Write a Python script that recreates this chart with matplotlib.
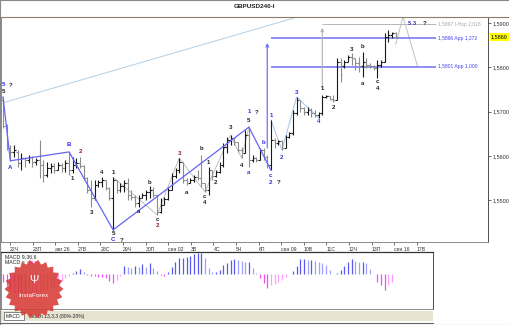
import matplotlib
matplotlib.use("Agg")
import matplotlib.pyplot as plt
import numpy as np
from matplotlib.lines import Line2D
from matplotlib.patches import Polygon, Rectangle

plt.rcParams['font.family'] = ['Liberation Sans', 'DejaVu Sans']

# GBPUSD H4 bars
hi = [
    1.5733, 1.5672, 1.5625, 1.5625, 1.5613, 1.5607, 1.5598, 1.5602, 1.5600, 1.5595,
    1.5636, 1.5591, 1.5586, 1.5584, 1.5584, 1.5586, 1.5584, 1.5591, 1.5609, 1.5598,
    1.5595, 1.5598, 1.5580, 1.5552, 1.5546, 1.5546, 1.5546, 1.5552, 1.5546, 1.5530,
    1.5552, 1.5546, 1.5539, 1.5546, 1.5550, 1.5523, 1.5512, 1.5512, 1.5516, 1.5523,
    1.5532, 1.5530, 1.5512, 1.5505, 1.5507, 1.5530, 1.5561, 1.5573, 1.5595, 1.5586,
    1.5550, 1.5550, 1.5557, 1.5568, 1.5602, 1.5539, 1.5575, 1.5568, 1.5568, 1.5586,
    1.5629, 1.5643, 1.5647, 1.5643, 1.5631, 1.5620, 1.5659, 1.5665, 1.5602, 1.5598,
    1.5618, 1.5618, 1.5602, 1.5681, 1.5640, 1.5636, 1.5636, 1.5647, 1.5654, 1.5704,
    1.5733, 1.5726, 1.5710, 1.5710, 1.5708, 1.5704, 1.5699, 1.5737, 1.5737, 1.5735,
    1.5737, 1.5821, 1.5821, 1.5816, 1.5828, 1.5832, 1.5821, 1.5823, 1.5835, 1.5821,
    1.5810, 1.5805, 1.5816, 1.5816, 1.5877, 1.5884, 1.5880, 1.5880,
]
lo = [
    1.5663, 1.5613, 1.5589, 1.5598, 1.5575, 1.5568, 1.5575, 1.5584, 1.5575, 1.5580,
    1.5550, 1.5541, 1.5552, 1.5561, 1.5561, 1.5568, 1.5564, 1.5564, 1.5557, 1.5561,
    1.5573, 1.5573, 1.5546, 1.5516, 1.5485, 1.5500, 1.5530, 1.5530, 1.5523, 1.5500,
    1.5433, 1.5516, 1.5519, 1.5519, 1.5500, 1.5500, 1.5485, 1.5485, 1.5505, 1.5500,
    1.5505, 1.5507, 1.5467, 1.5471, 1.5489, 1.5500, 1.5523, 1.5550, 1.5561, 1.5539,
    1.5534, 1.5539, 1.5541, 1.5546, 1.5530, 1.5519, 1.5512, 1.5546, 1.5552, 1.5561,
    1.5575, 1.5607, 1.5625, 1.5625, 1.5609, 1.5595, 1.5607, 1.5575, 1.5586, 1.5586,
    1.5591, 1.5591, 1.5573, 1.5568, 1.5618, 1.5625, 1.5613, 1.5618, 1.5640, 1.5647,
    1.5692, 1.5699, 1.5692, 1.5692, 1.5688, 1.5688, 1.5686, 1.5692, 1.5731, 1.5726,
    1.5722, 1.5726, 1.5767, 1.5798, 1.5812, 1.5805, 1.5794, 1.5789, 1.5778, 1.5798,
    1.5798, 1.5794, 1.5776, 1.5801, 1.5812, 1.5857, 1.5866, 1.5866,
]
op = [
    1.5726, 1.5668, 1.5618, 1.5609, 1.5609, 1.5584, 1.5595, 1.5591, 1.5598, 1.5586,
    1.5591, 1.5580, 1.5557, 1.5573, 1.5577, 1.5568, 1.5580, 1.5573, 1.5584, 1.5568,
    1.5580, 1.5584, 1.5577, 1.5550, 1.5523, 1.5505, 1.5534, 1.5541, 1.5546, 1.5528,
    1.5505, 1.5546, 1.5523, 1.5532, 1.5539, 1.5512, 1.5507, 1.5493, 1.5505, 1.5512,
    1.5519, 1.5523, 1.5512, 1.5473, 1.5489, 1.5503, 1.5523, 1.5555, 1.5568, 1.5586,
    1.5546, 1.5539, 1.5546, 1.5552, 1.5550, 1.5539, 1.5523, 1.5568, 1.5555, 1.5564,
    1.5580, 1.5620, 1.5636, 1.5640, 1.5631, 1.5613, 1.5607, 1.5647, 1.5591, 1.5595,
    1.5591, 1.5613, 1.5598, 1.5580, 1.5636, 1.5629, 1.5634, 1.5618, 1.5643, 1.5652,
    1.5697, 1.5726, 1.5708, 1.5699, 1.5704, 1.5697, 1.5692, 1.5697, 1.5733, 1.5735,
    1.5728, 1.5726, 1.5812, 1.5803, 1.5812, 1.5823, 1.5821, 1.5810, 1.5803, 1.5812,
    1.5805, 1.5803, 1.5798, 1.5805, 1.5812, 1.5868, 1.5873, 1.5877,
]
cl = [
    1.5668, 1.5618, 1.5609, 1.5613, 1.5584, 1.5595, 1.5591, 1.5598, 1.5586, 1.5591,
    1.5580, 1.5557, 1.5573, 1.5577, 1.5568, 1.5580, 1.5573, 1.5584, 1.5568, 1.5580,
    1.5584, 1.5577, 1.5550, 1.5523, 1.5505, 1.5534, 1.5541, 1.5546, 1.5528, 1.5505,
    1.5546, 1.5523, 1.5532, 1.5539, 1.5512, 1.5507, 1.5493, 1.5505, 1.5512, 1.5519,
    1.5523, 1.5512, 1.5473, 1.5489, 1.5503, 1.5523, 1.5555, 1.5568, 1.5586, 1.5546,
    1.5539, 1.5546, 1.5552, 1.5550, 1.5539, 1.5523, 1.5568, 1.5555, 1.5564, 1.5580,
    1.5620, 1.5636, 1.5640, 1.5631, 1.5613, 1.5607, 1.5647, 1.5591, 1.5595, 1.5591,
    1.5613, 1.5598, 1.5580, 1.5636, 1.5629, 1.5634, 1.5618, 1.5643, 1.5652, 1.5697,
    1.5726, 1.5708, 1.5699, 1.5704, 1.5697, 1.5692, 1.5697, 1.5733, 1.5735, 1.5728,
    1.5726, 1.5812, 1.5783, 1.5812, 1.5823, 1.5821, 1.5810, 1.5803, 1.5812, 1.5805,
    1.5803, 1.5798, 1.5805, 1.5812, 1.5868, 1.5873, 1.5877, 1.5869,
]

# MACD histogram, in pips
macd = [
    -8, -12, -16, -19, -21, -22, -22, -21, -20, -19, -18, -17, -16, -14, -12, -10,
    -7, -4, -2, 1, 3, 5, 2, -1,
    -2, -2, -3, -3, -4, -7, -9, -6, -2,
    8, 7, 6, 8, 7, 10, 7, 11, 6, 3, -1, -2, 2, 7, 12, 16, 16, 17, 18, 20,
    21, 21, 16, 6, 2, 2, 4, 9, 11, 14, 15, 14, 13, 12, 12,
    6, 1, -4, -9, -14, -11, -10, -8, -6, -3, 0, 3, 8, 15, 15, 14, 14, 13, 12, 11,
    9, 4, 0, 1, 4, 8, 12, 15, 13, 12, 12, 11, 5, 0, -8, -11, -16, -11, -8, 0,
]

day_labels = ["22Ч", "23П", "авг 26", "27В", "28С", "29Ч", "30П", "сен 02", "3В", "4С",
              "5Ч", "6П", "сен 09", "10В", "11С", "12Ч", "13П", "сен 16", "17В"]

fib_levels = [1.5897, 1.5866, 1.5801]
fib_text = ["1,5897 I-Hop 2,618", "1,5866 App 1,272", "1,5801 App 1,000"]
fib_start = [87, 73, 73]

# wave counts: (bar, label, colour, anchor, dy px, dx px)
waves = [
    (0, '5', 'b', 'hi', 12, 0), (0, '?', 'k', 'hi', 11, 8), (0, '5', 'k', 'hi', 5, 0),
    (2, 'A', 'b', 'lo', -7, 0), (18, 'B', 'b', 'hi', 7, 0), (19, '1', 'k', 'lo', -5, 0),
    (21, '2', 'r', 'hi', 5, 0), (24, '3', 'k', 'lo', -6, 0), (27, '4', 'k', 'hi', 5, 0),
    (30, '1', 'k', 'hi', 5, 0), (30, '5', 'k', 'lo', -4, 0), (30, 'C', 'b', 'lo', -10, 0),
    (30, '?', 'k', 'lo', -11, 8),
    (37, 'a', 'k', 'lo', -5, 0), (40, 'b', 'k', 'hi', 4, 0), (42, 'c', 'k', 'lo', -5, 0),
    (42, '2', 'r', 'lo', -11, 0), (48, '3', 'r', 'hi', 5, 0), (50, 'a', 'k', 'lo', -7, 0),
    (54, 'b', 'k', 'hi', 7, 0), (55, 'c', 'k', 'lo', -5, 0), (55, '4', 'k', 'lo', -11, 0),
    (56, '1', 'k', 'hi', 4, 0), (58, '2', 'k', 'lo', -5, 0), (62, '3', 'k', 'hi', 8, 0),
    (65, '4', 'k', 'lo', -7, 0), (67, '5', 'k', 'hi', 7, 0), (67, '1', 'b', 'hi', 16, 0),
    (67, '?', 'k', 'hi', 15, 8), (67, 'a', 'b', 'lo', -6, 0), (71, 'b', 'b', 'hi', 5, 0),
    (73, 'c', 'b', 'lo', -5, 0), (73, '2', 'b', 'lo', -12, 0), (73, '?', 'k', 'lo', -12, 8),
    (73, '1', 'b', 'hi', 5, 0), (76, '2', 'b', 'lo', -7, 0), (80, '3', 'b', 'hi', 4, 0),
    (86, '4', 'b', 'lo', -4, 0), (87, '1', 'k', 'hi', 7, 0), (90, '2', 'k', 'lo', -6, 0),
    (95, '3', 'k', 'hi', 4, 0), (98, 'b', 'k', 'hi', 5, 0), (98, 'a', 'k', 'lo', -6, 0),
    (102, 'c', 'k', 'lo', -4, 0), (102, '4', 'k', 'lo', -11, 0),
]
main_wave = [(0, 'hi'), (2, 'lo'), (18, 'hi'), (30, 'lo'), (67, 'hi'), (73, 'lo')]
sub_wave = [(30, 'hi'), (42, 'lo'), (48, 'hi'), (55, 'lo'), (62, 'hi'), (65, 'lo'), (67, 'hi')]
new_wave = [(73, 'hi'), (76, 'lo'), (80, 'hi'), (86, 'lo')]
trend_x, trend_y = [0, 107], [1.5720, 1.5978]
proj_x, proj_y = [107, 109, 113], [1.5852, 1.5914, 1.5801]

hi, lo, op, cl, macd = map(np.array, (hi, lo, op, cl, macd))
n = len(hi)
x = np.arange(n)

W, H = 510, 325
fig = plt.figure(figsize=(W / 100, H / 100), dpi=100)


def fbox(l, t, r, b):
    return [l / W, 1 - b / H, (r - l) / W, (b - t) / H]


def fpt(px, py):
    return px / W, 1 - py / H


# ---- price panel
ax = fig.add_axes(fbox(1, 17, 488, 242))
ax.set_xlim(-0.55, 132.15)
ax.set_ylim(1.54057, 1.59135)

bar_col = np.where(cl >= op, '#1a1a1a', '#8c8c8c')
ax.vlines(x, lo, hi, colors=bar_col, lw=0.8, zorder=3)
ax.hlines(op, x - 0.5, x, colors=bar_col, lw=0.8, zorder=3)
ax.hlines(cl, x, x + 0.5, colors=bar_col, lw=0.8, zorder=3)

price = {'hi': hi, 'lo': lo}


def path(pts):
    return [p[0] for p in pts], [price[p[1]][p[0]] for p in pts]


ax.plot(trend_x, trend_y, color='#b4cfe4', lw=0.7, zorder=1)
ax.plot(*path(sub_wave), color='#c0c0c0', lw=0.7, zorder=2)
ax.plot(*path(new_wave), color='#a4c2ea', lw=0.7, zorder=2)
ax.plot(*path(main_wave), color='#6464f5', lw=0.9, zorder=4)
ax.plot(proj_x, proj_y, color='#c0c0c0', lw=0.7, zorder=2)

fib_col = ['#b5b5b5', '#7070f2', '#7070f2']
txt_col = ['#a8a8a8', '#4444ee', '#4444ee']
for lev, t, s, c, tc in zip(fib_levels, fib_text, fib_start, fib_col, txt_col):
    ax.hlines(lev, s, 118, colors=c, lw=0.7 if s == 87 else 1.1, zorder=2)
    ax.text(118.4, lev, t, color=tc, fontsize=3.6, va='center', ha='left', zorder=5)

ax.annotate('', xy=(72, 1.5855), xytext=(72, 1.5618),
            arrowprops=dict(arrowstyle='->', color='#7070ff', lw=0.9,
                            shrinkA=0, shrinkB=0, mutation_scale=5))
ax.annotate('', xy=(87, 1.5889), xytext=(87, 1.5753),
            arrowprops=dict(arrowstyle='->', color='#b0b0b0', lw=0.8,
                            shrinkA=0, shrinkB=0, mutation_scale=5))

ax.text(111.5, 1.5899, '5 3', color='#3a3ad0', fontsize=4.3, fontweight='bold',
        ha='center', va='center')
ax.text(114.8, 1.5899, '?', color='#222222', fontsize=4.3, fontweight='bold',
        ha='center', va='center')

cmap = {'b': '#2f2fe6', 'k': '#202020', 'r': '#8b2323'}
for i, t, c, a, dy, dx in waves:
    ax.annotate(t, (i, price[a][i]), xytext=(dx, dy), textcoords='offset pixels',
                ha='center', va='center', fontsize=4.4, fontweight='bold',
                color=cmap[c], annotation_clip=False, zorder=6)

ax.yaxis.tick_right()
yt = [1.55, 1.56, 1.57, 1.58, 1.59]
ax.set_yticks(yt)
ax.set_yticklabels([f"{v:.4f}".replace('.', ',') for v in yt])
ax.tick_params(axis='y', labelsize=4.0, length=2, width=0.5, pad=1.5,
               colors='#333333')
ax.set_xticks(np.arange(len(day_labels)) * 6.16 + 1.9)
ax.set_xticklabels(day_labels, fontsize=3.7, ha='left')
ax.tick_params(axis='x', length=2.5, width=0.5, pad=0.8, colors='#333333')
for s in ax.spines.values():
    s.set_color('#777777')
    s.set_linewidth(0.6)
ax.spines['right'].set_color('#333333')

ax.annotate(f"{cl[-1]:.4f}".replace('.', ','), xy=(1, cl[-1]),
            xycoords=('axes fraction', 'data'), xytext=(3, 0),
            textcoords='offset pixels', fontsize=4.0, va='center', ha='left',
            bbox=dict(boxstyle='square,pad=0.25', fc='#ffff00', ec='none'),
            annotation_clip=False)

# ---- MACD panel
ax2 = fig.add_axes(fbox(1, 252, 433, 309))
ax2.set_xlim(-0.55, 117.17)
ax2.set_ylim(-35, 22)
prev = np.r_[0, macd[:-1]]
mcol = np.where(macd >= 0,
                np.where(macd >= prev, '#5a5af0', '#a0a0ff'),
                np.where(macd <= prev, '#f050f0', '#ffa0ff'))
ax2.vlines(x, 0, macd, colors=mcol, lw=0.9)
ax2.set_xticks([])
ax2.set_yticks([])
for s in ax2.spines.values():
    s.set_color('#777777')
    s.set_linewidth(0.6)
ax2.spines['top'].set_color('#333333')
ax2.spines['top'].set_linewidth(0.9)
ax2.spines['right'].set_color('#333333')

fig.text(*fpt(5, 256.5), 'MACD 9,36,6', fontsize=3.8, va='center', color='#222222')
fig.text(*fpt(5, 263), 'MACD =', fontsize=3.8, va='center', color='#222222')
fig.text(*fpt(27, 263), '0,00', fontsize=3.8, va='center', color='#ff33ff')

# ---- chrome: title, frame, bottom tab strip
fig.text(*fpt(255, 6.5), 'GBPUSD240-I', fontsize=4.6, fontweight='bold',
         ha='center', va='center', color='#222222')
fig.add_artist(Line2D([0, 1], [1 - 17 / H] * 2, color='#8c7d6b', lw=0.8))
fig.add_artist(Rectangle(fpt(0, 321), 433 / W, 10 / H, transform=fig.transFigure,
                         fc='#e8e4d2', ec='none'))
fig.add_artist(Rectangle(fpt(4, 320), 20 / W, 8 / H, transform=fig.transFigure,
                         fc='white', ec='#555555', lw=0.5))
fig.text(*fpt(6, 316.5), 'MACD', fontsize=3.6, va='center', color='#222222')
fig.text(*fpt(30, 316.5), 'Stoch 13,3,3 (80%-20%)', fontsize=3.6, va='center',
         color='#222222')
fig.add_artist(Line2D([0, 433 / W], [1 - 323 / H] * 2, color='#666666', lw=0.8))
fig.add_artist(Rectangle((0, 0), 1, 1, transform=fig.transFigure, fill=False,
                         ec='#888888', lw=0.8))

# ---- InstaForex seal
lax = fig.add_axes(fbox(3, 258, 65, 320))
lax.set_zorder(5)
lax.set_xlim(-1.05, 1.05)
lax.set_ylim(-1.05, 1.05)
lax.axis('off')
k = 22
th = np.linspace(0, 2 * np.pi, 2 * k, endpoint=False)
rr = np.where(np.arange(2 * k) % 2 == 0, 1.0, 0.86)
lax.add_patch(Polygon(np.c_[rr * np.cos(th), rr * np.sin(th)], closed=True,
                      fc='#d63a35', ec='none', alpha=0.88))
lax.text(0, 0.3, 'Ψ', color='white', fontsize=8, ha='center', va='center')
lax.text(0, -0.22, 'InstaForex', color='white', fontsize=4.6, ha='center', va='center')

fig.savefig('out.png', dpi=100)
